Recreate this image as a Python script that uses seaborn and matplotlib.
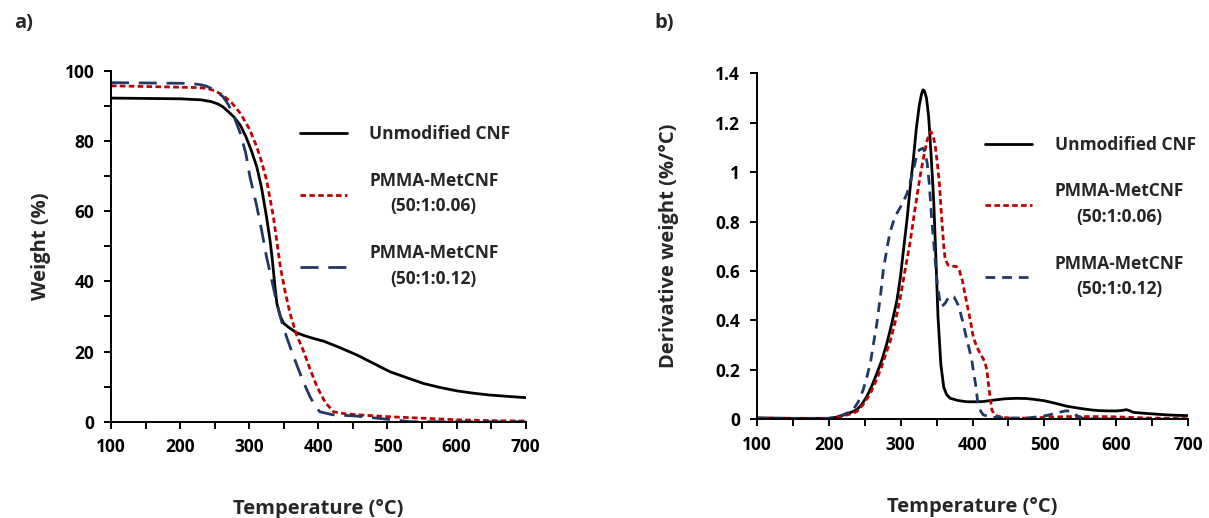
import matplotlib
matplotlib.use("Agg")
import matplotlib.pyplot as plt
import seaborn as sns
import numpy as np
from matplotlib.ticker import MultipleLocator, FuncFormatter

sns.set_theme(style="ticks")
plt.rcParams['font.family'] = ['Open Sans', 'DejaVu Sans']
plt.rcParams['font.weight'] = 'bold'

# ---------------- data: TGA (weight %) ----------------
tga_T_cnf = [100, 150, 200, 230, 245, 255, 262, 270, 278, 287, 295, 303, 311, 318, 325, 330, 333, 337, 340, 345, 350, 357, 368, 380, 395, 407, 430, 456, 480, 504, 530, 552, 575, 600, 625, 648, 675, 700]
tga_w_cnf = [92.2, 92.1, 92.0, 91.7, 91.2, 90.5, 89.7, 88.3, 86.8, 84.5, 81.3, 77.3, 72.6, 66.5, 58.4, 51.8, 47.0, 39.0, 33.7, 30.0, 28.0, 26.9, 25.4, 24.5, 23.6, 23.0, 21.2, 19.0, 16.6, 14.2, 12.4, 10.9, 9.8, 8.8, 8.1, 7.6, 7.2, 6.85]

tga_T_006 = [100, 150, 200, 225, 238, 250, 262, 275, 287, 300, 311, 318, 325, 335, 345, 352, 359, 368, 378, 388, 398, 410, 422, 440, 470, 504, 550, 600, 650, 700]
tga_w_006 = [95.7, 95.5, 95.3, 95.2, 95.0, 94.3, 93.0, 90.8, 87.9, 83.5, 78.3, 74.0, 68.9, 58.4, 44.2, 37.0, 30.9, 25.0, 20.4, 15.0, 10.0, 5.5, 2.85, 2.2, 1.8, 1.4, 1.0, 0.55, 0.3, 0.2]

tga_T_012 = [100, 150, 214, 230, 238, 250, 262, 270, 277, 287, 295, 301, 311, 318, 325, 333, 340, 347, 354, 361, 368, 378, 388, 395, 402, 420, 456, 480, 504, 520, 533, 600, 700]
tga_w_012 = [96.6, 96.5, 96.4, 96.0, 95.6, 94.5, 92.6, 90.3, 87.4, 82.2, 76.5, 69.8, 61.3, 54.5, 47.0, 40.0, 33.7, 28.5, 24.2, 20.3, 16.6, 11.5, 7.1, 4.6, 2.85, 2.0, 1.6, 1.1, 0.6, 0.3, 0.0, 0.0, 0.0]

# ---------------- data: DTG (derivative weight %/°C) ----------------
dtg_T_cnf = [100, 150, 200, 210, 220, 230, 239, 246, 253, 260, 267, 274, 281, 288, 295, 300, 304, 309, 313, 318, 322, 326, 329, 331, 333, 336, 339, 342, 346, 349, 352, 356, 360, 364, 369, 380, 392, 405, 415, 430, 445, 461, 475, 485, 500, 515, 531, 550, 565, 577, 590, 600, 608, 614, 619, 624, 640, 655, 670, 685, 700]
dtg_d_cnf = [0.006, 0.004, 0.004, 0.008, 0.017, 0.027, 0.038, 0.06, 0.092, 0.135, 0.186, 0.24, 0.308, 0.39, 0.483, 0.58, 0.685, 0.81, 0.928, 1.06, 1.18, 1.27, 1.315, 1.333, 1.33, 1.3, 1.225, 1.09, 0.887, 0.66, 0.415, 0.22, 0.13, 0.1, 0.085, 0.076, 0.071, 0.071, 0.072, 0.078, 0.083, 0.085, 0.084, 0.081, 0.075, 0.065, 0.053, 0.044, 0.038, 0.035, 0.034, 0.034, 0.036, 0.039, 0.034, 0.028, 0.024, 0.021, 0.018, 0.016, 0.015]

dtg_T_006 = [100, 150, 200, 210, 220, 230, 239, 248, 258, 265, 272, 279, 286, 293, 299, 306, 313, 320, 327, 332, 336, 339, 342, 345, 348, 351, 354, 357, 360, 362, 366, 372, 378, 382, 386, 392, 397, 401, 405, 409, 413, 417, 420, 422, 424, 427, 430, 434, 445, 461, 485, 510, 531, 555, 577, 600, 624, 650, 675, 700]
dtg_d_006 = [0.003, 0.002, 0.003, 0.007, 0.013, 0.022, 0.031, 0.06, 0.105, 0.15, 0.2, 0.26, 0.32, 0.4, 0.483, 0.6, 0.712, 0.85, 0.982, 1.06, 1.117, 1.15, 1.164, 1.15, 1.11, 1.04, 0.95, 0.82, 0.7, 0.648, 0.624, 0.62, 0.618, 0.6, 0.56, 0.47, 0.4, 0.334, 0.3, 0.275, 0.255, 0.233, 0.2, 0.146, 0.1, 0.038, 0.02, 0.013, 0.007, 0.004, 0.006, 0.009, 0.011, 0.011, 0.011, 0.01, 0.007, 0.005, 0.004, 0.003]

dtg_T_012 = [100, 150, 200, 210, 220, 228, 234, 241, 248, 253, 258, 262, 267, 272, 276, 281, 285, 290, 295, 300, 304, 309, 313, 318, 322, 326, 331, 334, 337, 340, 343, 347, 351, 354, 357, 362, 366, 370, 374, 378, 381, 386, 390, 395, 399, 402, 404, 406, 408, 412, 415, 422, 429, 445, 461, 478, 494, 504, 512, 520, 529, 535, 540, 547, 554, 570, 600, 650, 700]
dtg_d_012 = [0.004, 0.003, 0.004, 0.008, 0.018, 0.028, 0.038, 0.07, 0.119, 0.17, 0.227, 0.3, 0.388, 0.5, 0.604, 0.69, 0.753, 0.8, 0.834, 0.86, 0.881, 0.915, 0.955, 1.01, 1.063, 1.09, 1.097, 1.08, 1.036, 0.95, 0.82, 0.68, 0.55, 0.49, 0.456, 0.47, 0.49, 0.5, 0.496, 0.475, 0.456, 0.4, 0.348, 0.29, 0.24, 0.18, 0.146, 0.1, 0.051, 0.03, 0.018, 0.012, 0.008, 0.006, 0.005, 0.006, 0.011, 0.016, 0.022, 0.028, 0.034, 0.034, 0.024, 0.012, 0.004, 0.002, 0.001, 0.001, 0.001]

labels = ["Unmodified CNF", "PMMA-MetCNF\n(50:1:0.06)", "PMMA-MetCNF\n(50:1:0.12)"]
x_ticks = [100, 200, 300, 400, 500, 600, 700]
y_ticks_a = [0, 20, 40, 60, 80, 100]
y_ticks_b = [0, 0.2, 0.4, 0.6, 0.8, 1.0, 1.2, 1.4]

BLACK = "#000000"
RED = "#C00000"
BLUE = "#1F3864"

fig = plt.figure(figsize=(12.09, 5.18), dpi=100)
fig.patch.set_facecolor("white")
ax1 = fig.add_axes([0.0918, 0.1859, 0.3430, 0.6776])
ax2 = fig.add_axes([0.6259, 0.1905, 0.3570, 0.6680])

TICK_FS = 12.5
LABEL_FS = 14.5


def style_axes(ax, xlim, ylim, yticks, yminor, ylabel, fmt, ylabelpad):
    ax.set_xlim(*xlim)
    ax.set_ylim(*ylim)
    ax.set_xticks(x_ticks)
    ax.xaxis.set_minor_locator(MultipleLocator(50))
    ax.set_yticks(yticks)
    if yminor:
        ax.yaxis.set_minor_locator(MultipleLocator(yminor))
    ax.yaxis.set_major_formatter(FuncFormatter(fmt))
    for s in ["top", "right"]:
        ax.spines[s].set_visible(False)
    for s in ["left", "bottom"]:
        ax.spines[s].set_linewidth(1.4)
        ax.spines[s].set_color("black")
    ax.tick_params(axis="both", which="both", direction="out", length=5, width=1.4,
                   colors="black", labelsize=TICK_FS, pad=7)
    ax.set_xlabel("Temperature (°C)", fontsize=LABEL_FS, fontweight="bold", labelpad=31)
    ax.set_ylabel(ylabel, fontsize=LABEL_FS, fontweight="bold", labelpad=ylabelpad)
    for t in ax.get_xticklabels() + ax.get_yticklabels():
        t.set_fontweight("bold")
    ax.set_facecolor("white")
    ax.grid(False)


# Panel a
sns.lineplot(x=tga_T_cnf, y=tga_w_cnf, ax=ax1, color=BLACK, lw=2.0, label=labels[0], sort=False)
sns.lineplot(x=tga_T_006, y=tga_w_006, ax=ax1, color=RED, lw=2.0, linestyle=(0, (2.0, 1.2)), label=labels[1], sort=False)
sns.lineplot(x=tga_T_012, y=tga_w_012, ax=ax1, color=BLUE, lw=2.0, linestyle=(0, (6.5, 3.5)), label=labels[2], sort=False)
style_axes(ax1, (100, 700), (0, 100), y_ticks_a, 10, "Weight (%)", lambda v, p: f"{v:g}", 10)

# Panel b
sns.lineplot(x=dtg_T_cnf, y=dtg_d_cnf, ax=ax2, color=BLACK, lw=2.0, label=labels[0], sort=False)
sns.lineplot(x=dtg_T_006, y=dtg_d_006, ax=ax2, color=RED, lw=2.0, linestyle=(0, (2.0, 1.2)), label=labels[1], sort=False)
sns.lineplot(x=dtg_T_012, y=dtg_d_012, ax=ax2, color=BLUE, lw=2.0, linestyle=(0, (3.5, 2.5)), label=labels[2], sort=False)
style_axes(ax2, (100, 700), (0, 1.4), y_ticks_b, None, "Derivative weight (%/°C)", lambda v, p: f"{v:g}", 26)

for ax, anchor in [(ax1, (0.455, 0.845)), (ax2, (0.53, 0.82))]:
    leg = ax.legend(loc="upper left", bbox_to_anchor=anchor, frameon=False,
                    fontsize=12.5, handlelength=2.7, labelspacing=1.65, handletextpad=1.3,
                    borderaxespad=0, borderpad=0)
    for t in leg.get_texts():
        t.set_multialignment("center")
        t.set_fontweight("bold")
        t.set_linespacing(1.55)

fig.text(0.012, 0.955, "a)", fontsize=14.5, fontweight="bold", va="center", ha="left")
fig.text(0.541, 0.955, "b)", fontsize=14.5, fontweight="bold", va="center", ha="left")

fig.savefig("out.png", dpi=100, facecolor="white")
